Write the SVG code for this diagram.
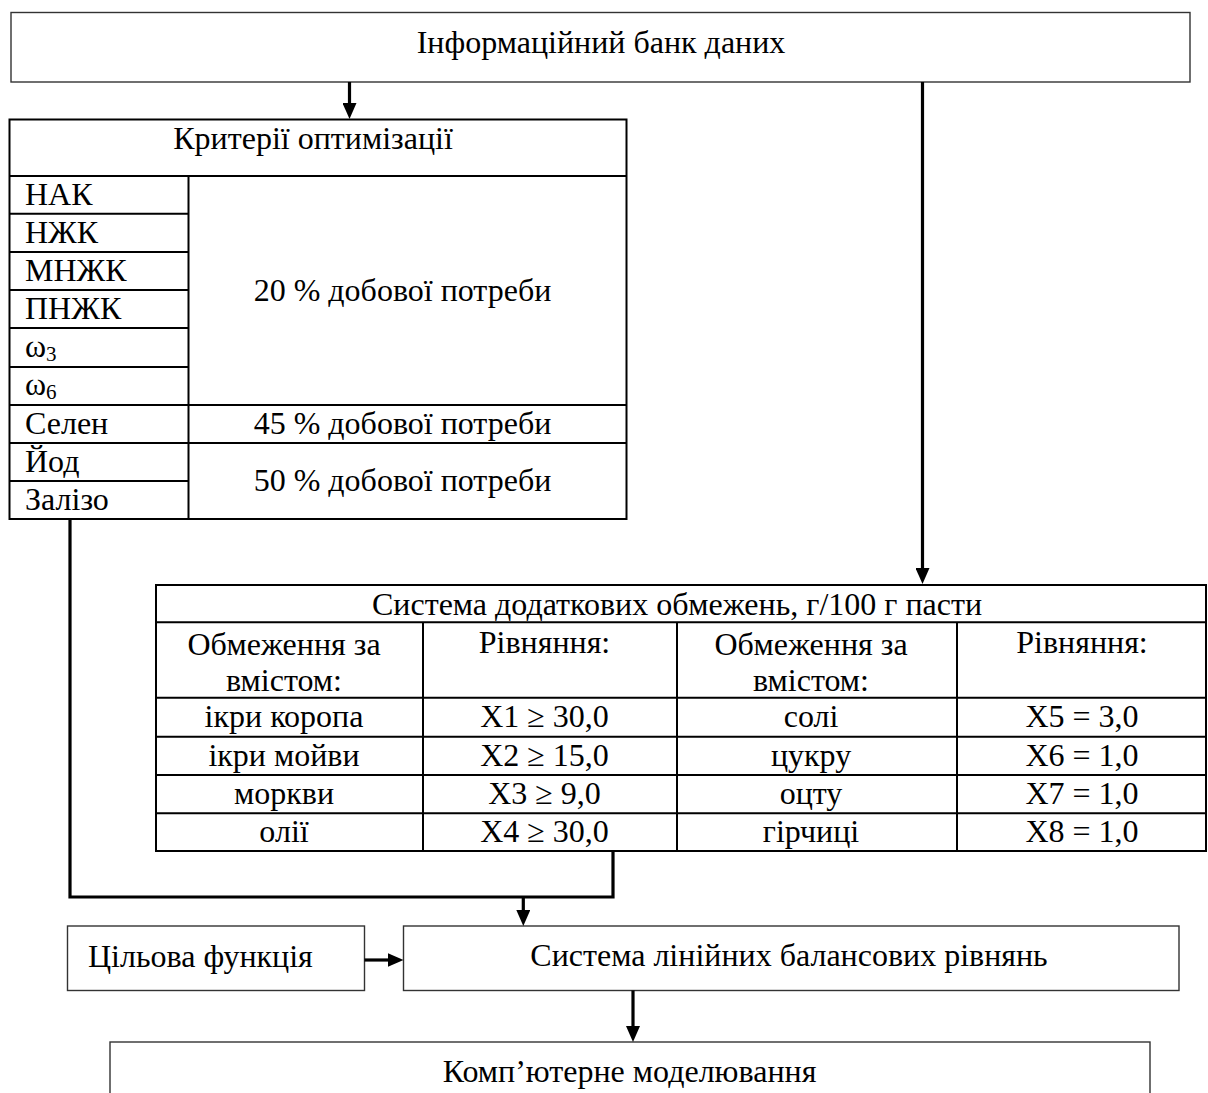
<svg xmlns="http://www.w3.org/2000/svg" width="1208" height="1093" viewBox="0 0 1208 1093">
<style>
text{font-family:"Liberation Serif","Times New Roman",serif;font-size:32px;fill:#000}
.c{text-anchor:middle}
.box{fill:#fff;stroke:#333;stroke-width:1.4}
.tbl{fill:none;stroke:#000;stroke-width:2}
.ln{stroke:#000;stroke-width:2;fill:none}
.con{stroke:#000;stroke-width:3.2;fill:none}
.sub{font-size:21px}
</style>
<defs>
<marker id="ah" viewBox="0 0 16 14" markerWidth="16" markerHeight="14" refX="8" refY="7" orient="auto" markerUnits="userSpaceOnUse">
<path d="M0,0 L16,7 L0,14 z" fill="#000"/>
</marker>
</defs>
<rect width="1208" height="1093" fill="#fff"/>

<g id="bank">
<rect class="box" x="11" y="12.5" width="1179" height="69.5"/>
<text class="c" x="601" y="53">Інформаційний банк даних</text>
</g>

<g id="criteria">
<rect class="tbl" x="9.5" y="119.5" width="617" height="399.5"/>
<path class="ln" d="M9.5,176H626.5M9.5,213.7H188.5M9.5,252H188.5M9.5,290H188.5M9.5,328H188.5M9.5,367H188.5M9.5,405H626.5M9.5,443H626.5M9.5,481H188.5M188.5,176V519"/>
<text class="c" x="313" y="149">Критерії оптимізації</text>
<text x="25" y="204.5">НАК</text>
<text x="25" y="242.5">НЖК</text>
<text x="25" y="280.5">МНЖК</text>
<text x="25" y="318.5">ПНЖК</text>
<text x="25" y="357">ω<tspan class="sub" dy="4">3</tspan></text>
<text x="25" y="395">ω<tspan class="sub" dy="4">6</tspan></text>
<text x="25" y="433.5">Селен</text>
<text x="25" y="471.5">Йод</text>
<text x="25" y="510">Залізо</text>
<text class="c" x="402.5" y="300.7">20 % добової потреби</text>
<text class="c" x="402.5" y="433.5">45 % добової потреби</text>
<text class="c" x="402.5" y="491">50 % добової потреби</text>
</g>

<g id="constraints">
<rect class="tbl" x="156" y="585" width="1050" height="266"/>
<path class="ln" d="M156,622.3H1206M156,697.7H1206M156,736.7H1206M156,775H1206M156,813.3H1206M423,622.3V851M677,622.3V851M957,622.3V851"/>
<text class="c" x="677" y="615">Система додаткових обмежень, г/100 г пасти</text>
<text class="c" x="284" y="655">Обмеження за</text>
<text class="c" x="284" y="691">вмістом:</text>
<text class="c" x="544.5" y="652.5">Рівняння:</text>
<text class="c" x="811" y="655">Обмеження за</text>
<text class="c" x="811" y="691">вмістом:</text>
<text class="c" x="1082" y="652.5">Рівняння:</text>
<text class="c" x="284" y="727">ікри коропа</text>
<text class="c" x="284" y="765.5">ікри мойви</text>
<text class="c" x="284" y="803.5">моркви</text>
<text class="c" x="284" y="842">олії</text>
<text class="c" x="544.5" y="727">X1 ≥ 30,0</text>
<text class="c" x="544.5" y="765.5">X2 ≥ 15,0</text>
<text class="c" x="544.5" y="803.5">X3 ≥ 9,0</text>
<text class="c" x="544.5" y="842">X4 ≥ 30,0</text>
<text class="c" x="811" y="727">солі</text>
<text class="c" x="811" y="765.5">цукру</text>
<text class="c" x="811" y="803.5">оцту</text>
<text class="c" x="811" y="842">гірчиці</text>
<text class="c" x="1082" y="727">X5 = 3,0</text>
<text class="c" x="1082" y="765.5">X6 = 1,0</text>
<text class="c" x="1082" y="803.5">X7 = 1,0</text>
<text class="c" x="1082" y="842">X8 = 1,0</text>
</g>

<g id="target">
<rect class="box" x="67.5" y="926" width="297" height="64.5"/>
<text x="88" y="966.5">Цільова функція</text>
</g>

<g id="balance">
<rect class="box" x="403.5" y="926" width="775.5" height="64.5"/>
<text class="c" x="789" y="966">Система лінійних балансових рівнянь</text>
</g>

<g id="modeling">
<rect class="box" x="110" y="1042" width="1040" height="70"/>
<text class="c" x="629.5" y="1082">Комп’ютерне моделювання</text>
</g>

<g id="connectors">
<line class="con" x1="349.5" y1="82" x2="349.5" y2="111" marker-end="url(#ah)"/>
<line class="con" x1="922.5" y1="82" x2="922.5" y2="576" marker-end="url(#ah)"/>
<polyline class="con" stroke-width="3.6" points="70,519 70,897 613,897 613,851"/>
<line class="con" x1="523.3" y1="897" x2="523.3" y2="918" marker-end="url(#ah)"/>
<line class="con" stroke-width="4" x1="364.5" y1="960" x2="395.5" y2="960" marker-end="url(#ah)"/>
<line class="con" x1="633" y1="990.5" x2="633" y2="1034" marker-end="url(#ah)"/>
</g>
</svg>
